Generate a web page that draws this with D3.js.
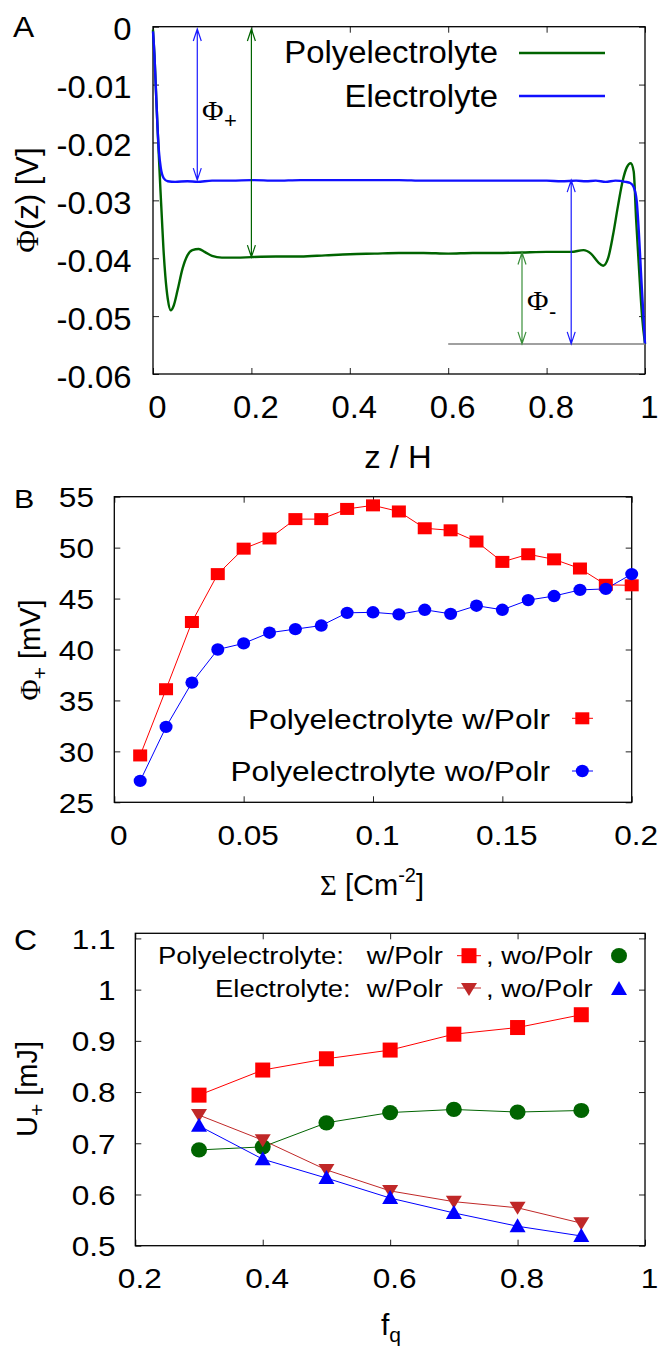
<!DOCTYPE html>
<html><head><meta charset="utf-8">
<script src="https://cdn.jsdelivr.net/npm/d3@7"></script>
<style>body{margin:0;background:#fff}svg{display:block}</style>
</head><body>
<svg id="c" width="660" height="1349"></svg>
<script>
// ---------- DATA ----------
// Panel A : potential profiles
const zPoly = [0,0.003,0.006,0.009,0.012,0.015,0.018,0.021,0.025,0.03,0.036,0.042,0.05,0.06,0.07,0.08,0.093,0.105,0.12,0.14,0.17,0.2,0.25,0.3,0.35,0.4,0.45,0.5,0.55,0.6,0.65,0.7,0.75,0.8,0.85,0.875,0.89,0.905,0.915,0.925,0.935,0.945,0.955,0.963,0.971,0.977,0.982,0.988,0.994,1.0];
const phiPoly = [-0.0005,-0.005,-0.011,-0.017,-0.0225,-0.028,-0.033,-0.038,-0.043,-0.047,-0.049,-0.0482,-0.0455,-0.0418,-0.0395,-0.0386,-0.0384,-0.0389,-0.0396,-0.0399,-0.0399,-0.0398,-0.0397,-0.0397,-0.0395,-0.0393,-0.0392,-0.0391,-0.0391,-0.0392,-0.0391,-0.0391,-0.039,-0.0389,-0.0389,-0.0386,-0.0392,-0.0407,-0.0413,-0.040,-0.036,-0.031,-0.0265,-0.0243,-0.0236,-0.025,-0.0334,-0.042,-0.050,-0.0548];
const zElec = [0,0.003,0.006,0.009,0.012,0.016,0.022,0.03,0.045,0.07,0.09,0.12,0.16,0.2,0.25,0.3,0.35,0.4,0.45,0.5,0.55,0.6,0.65,0.7,0.75,0.8,0.83,0.86,0.88,0.9,0.92,0.94,0.96,0.97,0.977,0.983,0.986,0.993,1.0];
const phiElec = [-0.0008,-0.005,-0.011,-0.017,-0.0215,-0.0245,-0.0262,-0.0267,-0.0268,-0.0267,-0.0268,-0.0266,-0.0266,-0.0265,-0.0266,-0.0265,-0.0265,-0.0265,-0.0265,-0.0265,-0.0266,-0.0266,-0.0266,-0.0266,-0.0266,-0.0266,-0.0267,-0.0266,-0.0267,-0.0266,-0.0268,-0.0266,-0.0268,-0.0270,-0.0277,-0.030,-0.0334,-0.0443,-0.0548];
const seriesA = ["Polyelectrolyte", "Electrolyte"];
const ticksAx = [0,0.2,0.4,0.6,0.8,1];
const ticksAy = [0,-0.01,-0.02,-0.03,-0.04,-0.05,-0.06];
// annotation levels (data units)
const phiBase = -0.0548, phiElecBulk = -0.0265, phiPolyBulk = -0.0398, phiPolyRight = -0.039;

// Panel B
const sigma = [0.01,0.02,0.03,0.04,0.05,0.06,0.07,0.08,0.09,0.1,0.11,0.12,0.13,0.14,0.15,0.16,0.17,0.18,0.19,0.2];
const phiPlusW = [29.6,36.1,42.7,47.4,49.9,50.9,52.8,52.8,53.8,54.15,53.55,51.9,51.7,50.6,48.6,49.35,48.85,47.95,46.35,46.3];
const phiPlusWo = [27.1,32.4,36.75,40.0,40.6,41.65,42.0,42.35,43.6,43.65,43.45,43.9,43.5,44.3,43.9,44.85,45.25,45.85,45.95,47.4];
const seriesB = ["Polyelectrolyte w/Polr", "Polyelectrolyte wo/Polr"];
const ticksBx = [0,0.05,0.1,0.15,0.2];
const ticksBy = [25,30,35,40,45,50,55];

// Panel C
const fq = [0.3,0.4,0.5,0.6,0.7,0.8,0.9];
const uPolyW = [0.794,0.843,0.865,0.882,0.913,0.926,0.951];
const uPolyWo = [0.687,0.693,0.740,0.760,0.766,0.761,0.764];
const uElecW = [0.755,0.706,0.648,0.607,0.586,0.574,0.544];
const uElecWo = [0.734,0.669,0.632,0.593,0.564,0.538,0.519];
const ticksCx = [0.2,0.4,0.6,0.8,1];
const ticksCy = [0.5,0.6,0.7,0.8,0.9,1,1.1];

// ---------- DRAWING ----------
const FONT = "'Liberation Sans', Arial, Helvetica, sans-serif";
const SERIF = "'Liberation Serif', 'Times New Roman', serif";
const svg = d3.select('#c');
const fmt = d => String(+(+d).toFixed(3));

function txt(x, y, s, fs, sx, anchor, fam) {
  return svg.append('text')
    .attr('transform', `translate(${x},${y}) scale(${sx},1)`)
    .attr('font-size', fs).attr('font-family', fam || FONT)
    .attr('text-anchor', anchor || 'start').attr('fill', '#000').text(s);
}

function frame(x, y, xt, yt, o) {
  const [x0, x1] = x.range(), [y0, y1] = y.range();
  const tk = 6;
  const b = svg.append('g').attr('transform', `translate(0,${y0})`)
    .call(d3.axisBottom(x).tickValues(xt).tickSizeInner(-tk).tickSizeOuter(0).tickFormat(fmt));
  const t = svg.append('g').attr('transform', `translate(0,${y1})`)
    .call(d3.axisTop(x).tickValues(xt).tickSizeInner(-tk).tickSizeOuter(0).tickFormat(''));
  const l = svg.append('g').attr('transform', `translate(${x0},0)`)
    .call(d3.axisLeft(y).tickValues(yt).tickSizeInner(-tk).tickSizeOuter(0).tickFormat(fmt));
  const r = svg.append('g').attr('transform', `translate(${x1},0)`)
    .call(d3.axisRight(y).tickValues(yt).tickSizeInner(-tk).tickSizeOuter(0).tickFormat(''));
  [b, t, l, r].forEach(g => {
    g.select('.domain').remove();
    g.attr('font-family', FONT).attr('font-size', o.fs);
    g.selectAll('line').attr('stroke', '#222').attr('stroke-width', 1);
  });
  b.selectAll('text').attr('x', 0).attr('y', 0).attr('dy', 0).attr('fill', '#000')
    .attr('transform', `translate(${o.xdx},${o.xoff}) scale(${o.sx},1)`);
  l.selectAll('text').attr('x', 0).attr('y', 0).attr('dy', o.ydy).attr('fill', '#000')
    .attr('transform', `translate(${-o.ypad},0) scale(${o.sx},1)`);
  svg.append('rect').attr('x', x0).attr('y', y1).attr('width', x1 - x0).attr('height', y0 - y1)
    .attr('fill', 'none').attr('stroke', '#000').attr('stroke-width', 1.3);
}

function rotLabel(x, y, parts, fs) {
  const t = svg.append('text').attr('transform', `translate(${x},${y}) rotate(-90)`)
    .attr('text-anchor', 'middle').attr('font-size', fs).attr('font-family', FONT).attr('fill', '#000');
  parts.forEach(p => {
    const s = t.append('tspan').text(p.t);
    if (p.fam) s.attr('font-family', p.fam);
    if (p.fs) s.attr('font-size', p.fs);
    if (p.dy) s.attr('dy', p.dy);
  });
  return t;
}

function vArrow(x, ya, yb, color, w) {
  // ya top, yb bottom (pixels) with heads both ends
  const h = 12, hw = 4;
  svg.append('path')
    .attr('d', `M${x},${ya}L${x},${yb}M${x - hw},${ya + h}L${x},${ya}L${x + hw},${ya + h}M${x - hw},${yb - h}L${x},${yb}L${x + hw},${yb - h}`)
    .attr('fill', 'none').attr('stroke', color).attr('stroke-width', w);
}

// ===== Panel A =====
{
  const x = d3.scaleLinear().domain([0, 1]).range([153, 645]);
  const y = d3.scaleLinear().domain([-0.06, 0]).range([374, 26.7]);
  frame(x, y, ticksAx, ticksAy, {fs: 31, sx: 1.06, xoff: 44, xdx: 4, ypad: 21.5, ydy: '0.42em'});
  const line = d3.line().x(d => x(d[0])).y(d => y(d[1])).curve(d3.curveMonotoneX);
  svg.append('path').datum(d3.zip(zPoly, phiPoly)).attr('d', line)
    .attr('fill', 'none').attr('stroke', '#006400').attr('stroke-width', 2.4);
  svg.append('path').datum(d3.zip(zElec, phiElec)).attr('d', line)
    .attr('fill', 'none').attr('stroke', '#1010ff').attr('stroke-width', 2.4);
  // annotations
  vArrow(x(0.09), y(-0.0004), y(phiElecBulk), '#1a1aff', 1.2);
  vArrow(x(0.2), y(-0.0004), y(phiPolyBulk), '#006400', 1.2);
  svg.append('line').attr('x1', x(0.6)).attr('x2', x(1)).attr('y1', y(phiBase)).attr('y2', y(phiBase))
    .attr('stroke', '#808080').attr('stroke-width', 1.5);
  vArrow(x(0.75), y(phiPolyRight), y(phiBase), '#3a8f3a', 1.2);
  vArrow(x(0.85), y(phiElecBulk), y(phiBase), '#1a1aff', 1.2);
  txt(202, 120, 'Φ', 28, 1.05, 'start', SERIF);
  txt(224, 128, '+', 22, 1, 'start');
  txt(527, 310, 'Φ', 28, 1.05, 'start', SERIF);
  txt(549, 319, '-', 22, 1, 'start');
  // legend
  txt(498, 63, seriesA[0], 31, 1.06, 'end');
  txt(498, 107, seriesA[1], 31, 1.06, 'end');
  svg.append('line').attr('x1', 519).attr('x2', 605).attr('y1', 53).attr('y2', 53).attr('stroke', '#006400').attr('stroke-width', 2.4);
  svg.append('line').attr('x1', 519).attr('x2', 605).attr('y1', 96).attr('y2', 96).attr('stroke', '#1010ff').attr('stroke-width', 2.4);
  // axis titles
  txt(398, 468, 'z / H', 31, 1.06, 'middle');
  rotLabel(38, 200, [{t: 'Φ', fam: SERIF}, {t: '(z) [V]'}], 31);
  txt(13, 37, 'A', 30, 1.06, 'start');
}

// ===== Panel B =====
{
  const x = d3.scaleLinear().domain([0, 0.2]).range([114.3, 631.7]);
  const y = d3.scaleLinear().domain([25, 55]).range([802.3, 496.7]);
  frame(x, y, ticksBx, ticksBy, {fs: 27, sx: 1.17, xoff: 42.7, xdx: 4, ypad: 20.3, ydy: '0.36em'});
  const line = d3.line().x(d => x(d[0])).y(d => y(d[1]));
  svg.append('path').datum(d3.zip(sigma, phiPlusW)).attr('d', line).attr('fill', 'none').attr('stroke', '#ff0000').attr('stroke-width', 1);
  svg.append('path').datum(d3.zip(sigma, phiPlusWo)).attr('d', line).attr('fill', 'none').attr('stroke', '#0000ff').attr('stroke-width', 1);
  svg.append('g').selectAll('rect').data(d3.zip(sigma, phiPlusW)).join('rect')
    .attr('x', d => x(d[0]) - 7).attr('y', d => y(d[1]) - 6).attr('width', 14).attr('height', 12).attr('fill', '#ff0000');
  svg.append('g').selectAll('ellipse').data(d3.zip(sigma, phiPlusWo)).join('ellipse')
    .attr('cx', d => x(d[0])).attr('cy', d => y(d[1])).attr('rx', 6.5).attr('ry', 6.2).attr('fill', '#0000ff');
  // legend
  txt(550, 729, seriesB[0], 27, 1.17, 'end');
  txt(550, 781, seriesB[1], 27, 1.17, 'end');
  svg.append('line').attr('x1', 572).attr('x2', 593).attr('y1', 718.3).attr('y2', 718.3).attr('stroke', '#ff0000');
  svg.append('rect').attr('x', 582.3 - 7).attr('y', 718.3 - 6).attr('width', 14).attr('height', 12).attr('fill', '#ff0000');
  svg.append('line').attr('x1', 572).attr('x2', 593).attr('y1', 771).attr('y2', 771).attr('stroke', '#0000ff');
  svg.append('ellipse').attr('cx', 582.3).attr('cy', 771).attr('rx', 6.5).attr('ry', 6.2).attr('fill', '#0000ff');
  // axis titles
  const xl = svg.append('text').attr('x', 372).attr('y', 895).attr('text-anchor', 'middle')
    .attr('font-size', 29).attr('font-family', FONT).attr('fill', '#000');
  xl.append('tspan').text('Σ').attr('font-family', SERIF);
  xl.append('tspan').text(' [Cm');
  xl.append('tspan').text('-2').attr('font-size', 20).attr('dy', -13);
  xl.append('tspan').text(']').attr('dy', 13);
  rotLabel(40, 650, [{t: 'Φ', fam: SERIF}, {t: '+', fs: 21, dy: 7}, {t: ' [mV]', dy: -7}], 29);
  txt(14, 508, 'B', 26, 1.17, 'start');
}

// ===== Panel C =====
{
  const x = d3.scaleLinear().domain([0.2, 1]).range([135.3, 645]);
  const y = d3.scaleLinear().domain([0.5, 1.11]).range([1245.7, 933.3]);
  frame(x, y, ticksCx, ticksCy, {fs: 27, sx: 1.17, xoff: 42.6, xdx: 4, ypad: 19.7, ydy: '0.36em'});
  const line = d3.line().x(d => x(d[0])).y(d => y(d[1]));
  const sq = (g, cx, cy, c) => g.append('rect').attr('x', cx - 7.5).attr('y', cy - 7.5).attr('width', 15).attr('height', 15).attr('fill', c);
  const circ = (g, cx, cy, c) => g.append('ellipse').attr('cx', cx).attr('cy', cy).attr('rx', 8).attr('ry', 7.6).attr('fill', c);
  const triU = (g, cx, cy, c) => g.append('path').attr('d', `M${cx - 8},${cy + 6}L${cx + 8},${cy + 6}L${cx},${cy - 8}Z`).attr('fill', c);
  const triD = (g, cx, cy, c) => g.append('path').attr('d', `M${cx - 8},${cy - 6}L${cx + 8},${cy - 6}L${cx},${cy + 7}Z`).attr('fill', c);
  const sets = [
    {v: uPolyW, c: '#ff0000', m: sq},
    {v: uPolyWo, c: '#006400', m: circ},
    {v: uElecW, c: '#c02828', m: triD},
    {v: uElecWo, c: '#0000ff', m: triU}
  ];
  sets.forEach(s => {
    const pts = d3.zip(fq, s.v);
    svg.append('path').datum(pts).attr('d', line).attr('fill', 'none').attr('stroke', s.c).attr('stroke-width', 1);
  });
  sets.forEach(s => {
    const g = svg.append('g');
    d3.zip(fq, s.v).forEach(d => s.m(g, x(d[0]), y(d[1]), s.c));
  });
  // legend
  const lf = 24.5, ls = 1.12;
  txt(158, 964, 'Polyelectrolyte:', lf, ls, 'start');
  txt(215, 997, 'Electrolyte:', lf, ls, 'start');
  txt(443, 964, 'w/Polr', lf, ls, 'end');
  txt(443, 997, 'w/Polr', lf, ls, 'end');
  txt(486, 964, ', wo/Polr', lf, ls, 'start');
  txt(486, 997, ', wo/Polr', lf, ls, 'start');
  const lg = svg.append('g');
  lg.append('line').attr('x1', 457).attr('x2', 481).attr('y1', 955.7).attr('y2', 955.7).attr('stroke', '#ff0000');
  sq(lg, 469, 955.7, '#ff0000');
  circ(lg, 619, 955.7, '#006400');
  lg.append('line').attr('x1', 457).attr('x2', 481).attr('y1', 988).attr('y2', 988).attr('stroke', '#c02828');
  triD(lg, 469, 989, '#c02828');
  triU(lg, 619, 989, '#0000ff');
  // axis titles
  const xl = svg.append('text').attr('x', 391).attr('y', 1335).attr('text-anchor', 'middle')
    .attr('font-size', 30).attr('font-family', FONT).attr('fill', '#000');
  xl.append('tspan').text('f');
  xl.append('tspan').text('q').attr('font-size', 21).attr('dy', 7);
  rotLabel(37, 1089, [{t: 'U'}, {t: '+', fs: 21, dy: 7}, {t: ' [mJ]', dy: -7}], 29);
  txt(14, 950, 'C', 29, 1.1, 'start');
}
</script>
</body></html>
